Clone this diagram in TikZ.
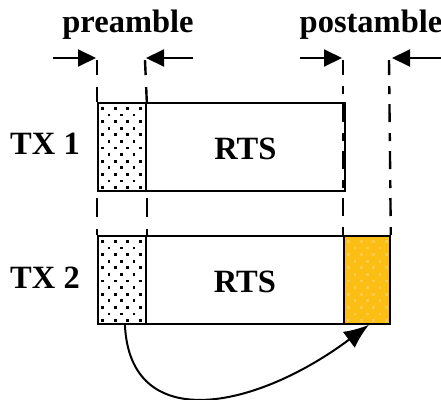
\documentclass[tikz,border=0pt]{standalone}
\usepackage{fontspec}
\setmainfont{Liberation Serif}
\usetikzlibrary{arrows.meta}
\definecolor{postfill}{HTML}{FBBE14}
\definecolor{postdot}{HTML}{FCCB48}
\tikzset{
  lbl/.style={font=\fontsize{32.5}{38}\selectfont\bfseries, inner sep=0pt, anchor=base},
  slot/.style={draw, line width=1.8pt, rectangle, inner sep=0pt, anchor=north west,
               minimum height=88pt},
  dotgrid/.style={path picture={
      \foreach \r [evaluate=\r as \o using {mod(\r,2)*6.25}] in {0,...,13}{
        \foreach \c in {0,...,3}{
          \fill[#1] ([shift={(\c*12.5+\o+3.5,\r*6.6+4)}]path picture bounding box.north west)
            rectangle ++(2.8,2.8);
        }}}},
  guide/.style={line width=2.4pt, dash pattern=on 15pt off 12pt},
  longguide/.style={line width=2.4pt, dash pattern=on 18pt off 10pt},
  dim/.style={line width=2pt, -{Triangle[length=18pt,width=17pt]}},
  hop/.style={line width=2pt, -{Latex[length=25pt,width=20pt]}}
}
\begin{document}
\begin{tikzpicture}[x=1pt,y=-1pt]
\useasboundingbox (0,0) rectangle (441,399);

% transmission slots
\node[slot, dotgrid=black, minimum width=48pt] (pre1) at (97,102) {};
\node[slot, minimum width=199pt] (rts1) at (145,102) {};
\node[slot, dotgrid=black, minimum width=48pt] (pre2) at (97,235) {};
\node[slot, minimum width=198pt] (rts2) at (145,235) {};
\node[slot, fill=postfill, dotgrid=postdot, minimum width=46pt] (post2) at (343,235) {};

% texts
\node[lbl] (tpre) at (128,32) {preamble};
\node[lbl] (tpost) at (371,32) {postamble};
\node[lbl] (tx1) at (45,154) {TX 1};
\node[lbl] (tx2) at (45,288) {TX 2};
\node[lbl] at (rts1.center) [anchor=center, yshift=-2pt] (r1) {RTS};
\node[lbl] at (rts2.center) [anchor=center, yshift=-2pt] (r2) {RTS};

% guide marks
\coordinate (ga) at (97,60);
\coordinate (gb) at (145,60);
\coordinate (gc) at (343,60);
\coordinate (gd) at (389,60);
\draw[guide] (pre1.north west) -- (ga);
\draw[guide] (pre1.north east) -- (gb);
\draw[guide, dash pattern=on 0pt off 6pt on 19pt off 12pt on 10pt] (pre1.south west) -- (pre2.north west);
\draw[guide, dash pattern=on 0pt off 6pt on 19pt off 12pt on 10pt] (pre1.south east) -- (pre2.north east);
\draw[longguide, dash pattern=on 8pt off 11pt on 18pt off 10pt] (post2.north west) -- (gc);
\draw[longguide, dash pattern=on 8pt off 11pt on 18pt off 10pt] (post2.north east) -- (gd);

% dimension arrows
\coordinate (a1) at (53,58);
\coordinate (a2) at (193,58);
\coordinate (a3) at (300,58);
\coordinate (a4) at (441,58);
\draw[dim] (a1) -- ([xshift=-1pt]ga |- a1);
\draw[dim] (a2) -- ([xshift=1pt]gb |- a2);
\draw[dim] (a3) -- ([xshift=-1pt]gc |- a3);
\draw[dim] (a4) -- ([xshift=3pt]gd |- a4);

% preamble reused as postamble
\draw[hop] ([xshift=3pt]pre2.south) .. controls (130,435) and (255,410) .. ([xshift=2pt]post2.south);
\end{tikzpicture}
\end{document}
